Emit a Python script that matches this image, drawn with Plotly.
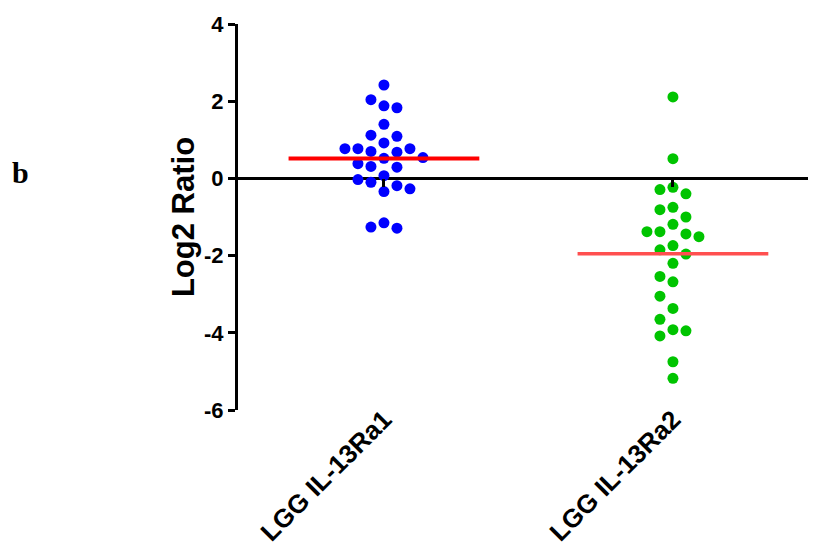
import plotly.graph_objects as go

# ---- data ----
categories = ["LGG IL-13Ra1", "LGG IL-13Ra2"]
ra1_values = [2.42, 2.04, 1.88, 1.83, 1.40, 1.12, 1.09, 0.92, 0.77, 0.77, 0.77,
              0.70, 0.68, 0.54, 0.52, 0.38, 0.31, 0.29, 0.07, -0.03, -0.10,
              -0.19, -0.27, -0.34, -1.15, -1.26, -1.29]
ra2_values = [2.11, 0.51, -0.23, -0.29, -0.40, -0.75, -0.81, -1.00, -1.19, -1.38,
              -1.38, -1.44, -1.51, -1.74, -1.85, -1.96, -2.20, -2.54, -2.68,
              -3.05, -3.37, -3.65, -3.92, -3.95, -4.08, -4.75, -5.18]
y_ticks = [4, 2, 0, -2, -4, -6]

# ---- layout geometry (page has an 8px body margin) ----
PAGE_OFF = 8
W, H = 816 - PAGE_OFF, 559 - 2 * PAGE_OFF
ML, MR, MT = 238 - PAGE_OFF, 0, 24 - PAGE_OFF
MB = H - (410 - PAGE_OFF)
X_RANGE = [-0.505, 1.495]
Y_RANGE = [-6, 4]
plot_w = W - ML - MR
plot_h = H - MT - MB
px_per_x = plot_w / (X_RANGE[1] - X_RANGE[0])
px_per_y = plot_h / (Y_RANGE[1] - Y_RANGE[0])


def swarm_offsets(vals, step_px=13.0, thresh_px=15.0):
    """Simple beeswarm: discrete columns, greedy placement from top."""
    order = sorted(range(len(vals)), key=lambda i: -vals[i])
    cols = {}
    offs = [0.0] * len(vals)
    for i in order:
        y = vals[i] * px_per_y
        cands = [0]
        for j in range(1, 20):
            cands += [-j, j]
        for c in cands:
            if all(abs(y - yy) >= thresh_px for yy in cols.get(c, [])):
                cols.setdefault(c, []).append(y)
                offs[i] = c * step_px / px_per_x
                break
    return offs


groups = [
    (ra1_values, "#0000FF", "#FF0000", 4),
    (ra2_values, "#00C400", "#FF4F4F", 3.5),
]

fig = go.Figure()
for gi, (vals, dot_col, mean_col, mean_w) in enumerate(groups):
    offs = swarm_offsets(vals)
    fig.add_trace(go.Scatter(
        x=[gi + o for o in offs], y=vals, mode="markers",
        marker=dict(color=dot_col, size=11, line=dict(width=0)),
        showlegend=False, hoverinfo="y"))
for gi, (vals, dot_col, mean_col, mean_w) in enumerate(groups):
    m = sum(vals) / len(vals)
    half = 0.33
    fig.add_trace(go.Scatter(
        x=[gi - half, gi + half], y=[m, m], mode="lines",
        line=dict(color=mean_col, width=mean_w),
        showlegend=False, hoverinfo="skip"))

# invisible trace for the small category ticks on the zero line
fig.add_trace(go.Scatter(x=[0, 1], y=[0, 0], xaxis="x2", mode="markers",
                         marker=dict(opacity=0), showlegend=False, hoverinfo="skip"))

zero_frac = (0 - Y_RANGE[0]) / (Y_RANGE[1] - Y_RANGE[0])
FONT = "Liberation Sans, Arial, sans-serif"

fig.update_layout(
    width=W, height=H,
    margin=dict(l=ML, r=MR, t=MT, b=MB, autoexpand=False),
    paper_bgcolor="white", plot_bgcolor="white",
    font=dict(family=FONT, color="black"),
    xaxis=dict(
        range=X_RANGE, tickvals=[0, 1], ticktext=categories, automargin=False,
        tickangle=-45, showline=False, showgrid=False, zeroline=False,
        ticks="", ticklabelstandoff=-12,
        tickfont=dict(size=26, family=FONT, weight="bold"),
    ),
    xaxis2=dict(
        overlaying="x", matches="x", anchor="free", position=zero_frac,
        tickvals=[0, 1], showticklabels=False, ticks="outside", automargin=False,
        ticklen=8, tickwidth=3, tickcolor="black", layer="above traces",
        showline=False, showgrid=False, zeroline=False,
    ),
    yaxis=dict(
        range=Y_RANGE, tickvals=y_ticks, ticktext=[str(v) for v in y_ticks],
        automargin=False,
        showline=True, linewidth=3, linecolor="black",
        ticks="outside", ticklen=7, tickwidth=2.5, tickcolor="black",
        showgrid=False, zeroline=True, zerolinecolor="black", zerolinewidth=3,
        tickfont=dict(size=22, family=FONT, weight="bold"),
        title=dict(text="Log2 Ratio", standoff=1,
                   font=dict(size=31, family=FONT, weight="bold")),
        layer="above traces",
    ),
    annotations=[dict(
        text="b", xref="paper", yref="paper", showarrow=False,
        x=(20 - PAGE_OFF - ML) / plot_w, y=(H - MB - (172 - PAGE_OFF)) / plot_h,
        xanchor="center", yanchor="middle",
        font=dict(size=30, family="Liberation Serif, Times New Roman, serif", weight="bold"),
    )],
)

fig.write_html("out.html")
